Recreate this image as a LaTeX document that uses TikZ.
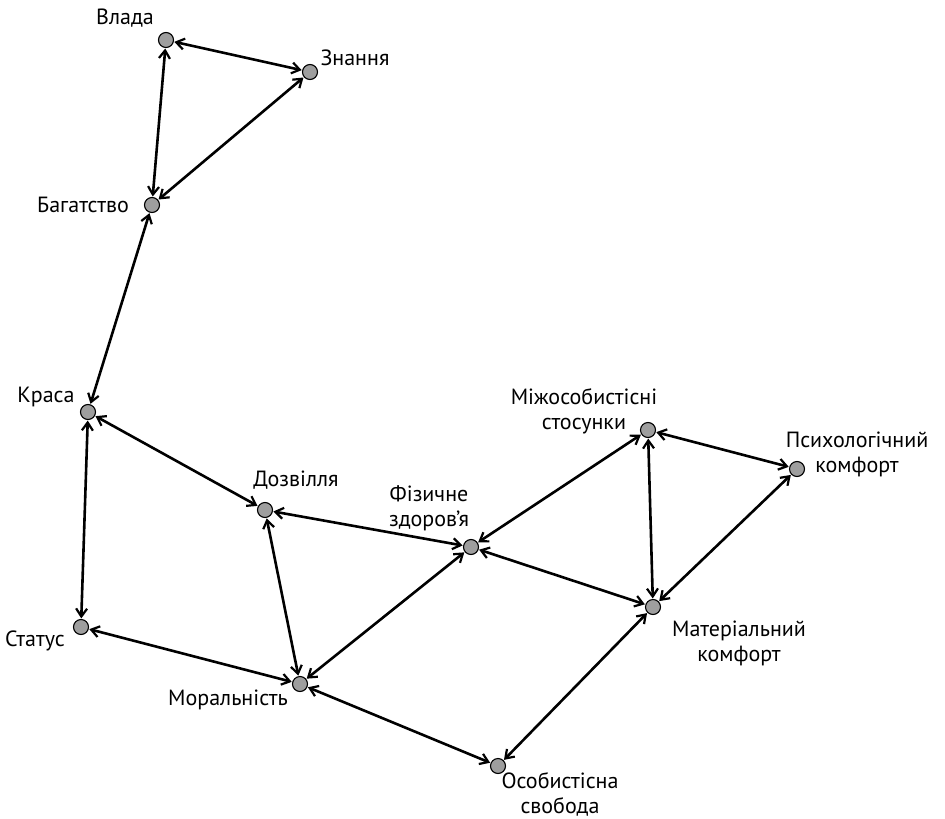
\documentclass[tikz,border=0pt]{standalone}
\usepackage{fontspec}
\setmainfont{PT Sans}
\usetikzlibrary{arrows.meta}
\begin{document}
\begin{tikzpicture}[x=1pt,y=-1pt,
  dot/.style={circle,draw=black,fill=black!38,line width=1.1pt,minimum size=15pt,inner sep=0pt},
  lbl/.style={font=\fontsize{22}{25}\selectfont,align=center,inner sep=0pt},
  link/.style={line width=2.6pt,{Straight Barb[length=8pt,width=11pt,line width=2.2pt]}-{Straight Barb[length=8pt,width=11pt,line width=2.2pt]},shorten <=0.5pt,shorten >=0.5pt}]
\useasboundingbox (0,0) rectangle (945,819);
\node[dot] (vl) at (166,40) {};
\node[dot] (zn) at (310,72) {};
\node[dot] (bg) at (152,205) {};
\node[dot] (kr) at (88,412) {};
\node[dot] (dz) at (265,510) {};
\node[dot] (fz) at (471,547) {};
\node[dot] (mo) at (648,430) {};
\node[dot] (ps) at (797,469) {};
\node[dot] (ma) at (653,607) {};
\node[dot] (st) at (81,627) {};
\node[dot] (mr) at (300,684) {};
\node[dot] (os) at (498,766) {};
\node[lbl] (lvl) at (125,18) {Влада};
\node[lbl] (lzn) at (355,58) {Знання};
\node[lbl] (lbg) at (83,205) {Багатство};
\node[lbl] (lkr) at (46,397) {Краса};
\node[lbl] (ldz) at (296,480) {Дозвілля};
\node[lbl] (lfz) at (429,508) {Фізичне\\здоров{\char"27}я};
\node[lbl] (lmo) at (584,411) {Міжособистісні\\стосунки};
\node[lbl] (lps) at (857,454) {Психологічний\\комфорт};
\node[lbl] (lma) at (739,643) {Матеріальний\\комфорт};
\node[lbl] (lst) at (35,641) {Статус};
\node[lbl] (lmr) at (228,700) {Моральність};
\node[lbl] (los) at (560,794) {Особистісна\\свобода};
\draw[link] (vl) -- (zn);
\draw[link] (vl) -- (bg);
\draw[link] (zn) -- (bg);
\draw[link] (bg) -- (kr);
\draw[link] (kr) -- (dz);
\draw[link] (kr) -- (st);
\draw[link] (st) -- (mr);
\draw[link] (dz) -- (mr);
\draw[link] (dz) -- (fz);
\draw[link] (fz) -- (mr);
\draw[link] (fz) -- (mo);
\draw[link] (fz) -- (ma);
\draw[link] (mo) -- (ma);
\draw[link] (mo) -- (ps);
\draw[link] (ps) -- (ma);
\draw[link] (ma) -- (os);
\draw[link] (mr) -- (os);
\end{tikzpicture}
\end{document}
